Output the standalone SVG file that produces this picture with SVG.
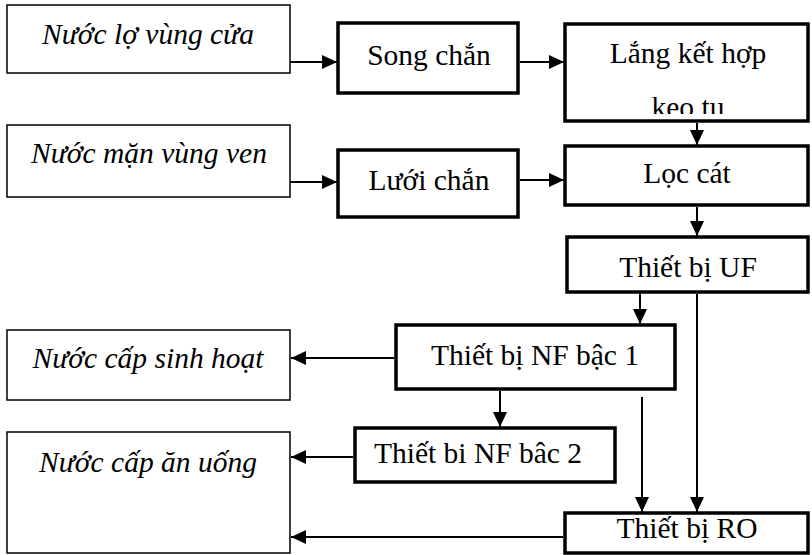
<svg xmlns="http://www.w3.org/2000/svg" width="812" height="555" viewBox="0 0 812 555">
<style>
.thin{fill:#fff;stroke:#000;stroke-width:1.5}
.thick{fill:#fff;stroke:#000;stroke-width:3.5}
text{font-family:'Liberation Serif','Times New Roman',serif;font-size:29.5px;fill:#000;text-anchor:middle}
.i{font-style:italic}
.c{fill:none;stroke:#000;stroke-width:2}
</style>
<defs>
<marker id="ah" markerUnits="userSpaceOnUse" markerWidth="16" markerHeight="15" refX="15" refY="7" orient="auto">
<path d="M0,0 L15,7 L0,14 z" fill="#000"/>
</marker>
<clipPath id="clipLang"><rect x="567" y="26" width="239" height="88"/></clipPath>
</defs>
<g id="src1"><rect class="thin" x="7" y="5" width="283" height="68"/><text class="i" x="148" y="44">Nước lợ vùng cửa</text></g>
<g id="src2"><rect class="thin" x="7" y="125" width="283" height="72"/><text class="i" x="149" y="163">Nước mặn vùng ven</text></g>
<g id="song"><rect class="thick" x="338" y="23" width="180" height="70"/><text x="429" y="65">Song chắn</text></g>
<g id="luoi"><rect class="thick" x="338" y="150" width="180" height="67"/><text x="429" y="190">Lưới chắn</text></g>
<g id="lang"><rect class="thick" x="565" y="24" width="243" height="97"/><text x="688" y="63">Lắng kết hợp</text><text x="688" y="117" clip-path="url(#clipLang)">keo tụ</text></g>
<g id="loc"><rect class="thick" x="565" y="146" width="243" height="59"/><text x="687" y="183">Lọc cát</text></g>
<g id="uf"><rect class="thick" x="567" y="237" width="241" height="55"/><text x="688" y="277">Thiết bị UF</text></g>
<g id="nf1"><rect class="thick" x="396" y="325" width="279" height="64"/><text x="535" y="365">Thiết bị NF bậc 1</text></g>
<g id="sinh"><rect class="thin" x="7" y="330" width="283" height="70"/><text class="i" x="148" y="368">Nước cấp sinh hoạt</text></g>
<g id="nf2"><rect class="thick" x="355" y="428" width="260" height="54"/><text x="478" y="463">Thiết bi NF bâc 2</text></g>
<g id="anuong"><rect class="thin" x="7" y="432" width="283" height="121"/><text class="i" x="148" y="472">Nước cấp ăn uống</text></g>
<g id="ro"><rect class="thick" x="565" y="513" width="243" height="40"/><text x="687" y="538">Thiết bị RO</text></g>
<g id="connectors">
<line class="c" x1="290" y1="62" x2="337" y2="62" marker-end="url(#ah)"/>
<line class="c" x1="520" y1="62" x2="564" y2="62" marker-end="url(#ah)"/>
<line class="c" x1="290" y1="182" x2="337" y2="182" marker-end="url(#ah)"/>
<line class="c" x1="520" y1="180" x2="564" y2="180" marker-end="url(#ah)"/>
<line class="c" x1="697" y1="123" x2="697" y2="145" marker-end="url(#ah)"/>
<line class="c" x1="697" y1="207" x2="697" y2="236" marker-end="url(#ah)"/>
<line class="c" x1="640" y1="294" x2="640" y2="324" marker-end="url(#ah)"/>
<line class="c" x1="697" y1="294" x2="697" y2="512" marker-end="url(#ah)"/>
<line class="c" x1="394" y1="358" x2="291" y2="358" marker-end="url(#ah)"/>
<line class="c" x1="500" y1="391" x2="500" y2="427" marker-end="url(#ah)"/>
<line class="c" x1="642" y1="397" x2="642" y2="512" marker-end="url(#ah)"/>
<line class="c" x1="353" y1="457" x2="291" y2="457" marker-end="url(#ah)"/>
<line class="c" x1="563" y1="537" x2="291" y2="537" marker-end="url(#ah)"/>
</g>
</svg>
